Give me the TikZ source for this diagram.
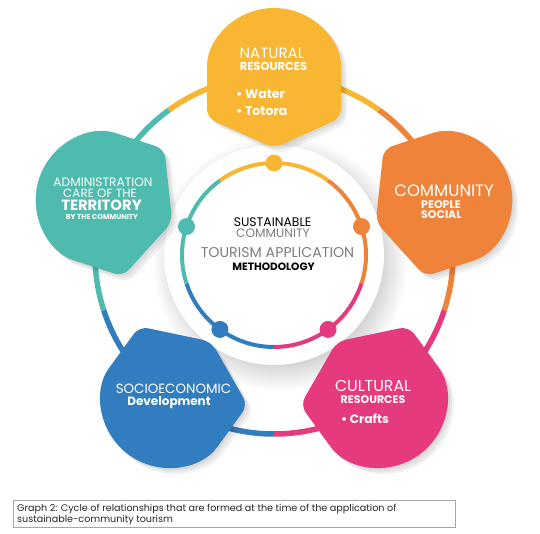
\documentclass[tikz,border=0pt]{standalone}
\usepackage{fontspec}
\setmainfont{Poppins}
\usetikzlibrary{calc}

\definecolor{natyellow}{RGB}{248,182,50}
\definecolor{comorange}{RGB}{239,131,57}
\definecolor{culpink}{RGB}{230,58,126}
\definecolor{socblue}{RGB}{50,125,191}
\definecolor{admteal}{RGB}{79,187,174}
\definecolor{midgray}{RGB}{125,125,125}

\pgfdeclareradialshading{discshade}{\pgfpoint{0bp}{0bp}}{color(0bp)=(black!22); color(18bp)=(black!22); color(25bp)=(white); color(50bp)=(white)}

\newcommand{\fsz}[1]{\fontsize{#1}{#1}\selectfont}

\tikzset{
  blob/.pic={\path[pic actions, rounded corners=9pt] (-67,0) arc[start angle=180, end angle=0, radius=67pt] -- (67,-43) -- (0,-73) -- (-67,-43) -- cycle;},
  txt/.style={white, anchor=base, inner sep=0pt},
  ltxt/.style={white, anchor=base west, inner sep=0pt},
}

\begin{document}
\begin{tikzpicture}[x=1pt,y=1pt]
  \useasboundingbox (0,0) rectangle (540,534);
  \coordinate (C) at (274,279);

  % white disc with its shadow
  \shade[shading=discshade] ($(C)+(6,-8)$) circle (128pt);
  \fill[white] (C) circle (110pt);

  % outer ring
  \foreach \a/\col in {90/natyellow,18/comorange,306/culpink,234/socblue,162/admteal}{
    \draw[\col, line width=5.5pt] ($(C)+(\a-36:179pt)$) arc[start angle=\a-36, end angle=\a+36, radius=179pt];
  }

  % blobs
  \foreach \a/\col/\nm in {90/natyellow/natblob,18/comorange/comblob,306/culpink/culblob,234/socblue/socblob,162/admteal/admblob}{
    \coordinate (\nm) at ($(C)+(\a:180pt)$);
    \foreach \s in {2,4,6}
      \pic[fill=black, fill opacity=0.05, rotate=\a-90] at ($(\nm)+(\s,-\s)$) {blob};
    \pic[fill=\col, rotate=\a-90] at (\nm) {blob};
  }

  % inner ring
  \foreach \a/\col in {90/natyellow,18/comorange,306/culpink,234/socblue,162/admteal}{
    \draw[\col, line width=4pt] ($(C)+(\a-36:92pt)$) arc[start angle=\a-36, end angle=\a+36, radius=92pt];
    \fill[\col] ($(C)+(\a:92pt)$) circle (8.5pt);
  }

  % natural resources
  \node[txt, font=\fsz{15}] (natural) at (272,475) {NATURAL};
  \node[txt, font=\bfseries\fsz{11.5}] (natres) at (273.5,463) {RESOURCES};
  \node[ltxt, font=\bfseries\fsz{12.5}] (water) at (236,435) {\textbullet\ Water};
  \node[ltxt, font=\bfseries\fsz{12.5}] (totora) at (236,418) {\textbullet\ Totora};

  % administration
  \node[txt, font=\fsz{12.2}] (admin) at (103,347) {ADMINISTRATION};
  \node[txt, font=\fsz{12}] (care) at (100,336) {CARE OF THE};
  \node[txt, font=\bfseries\fsz{14.8}] (territory) at (101.5,323) {TERRITORY};
  \node[txt, font=\bfseries\fsz{7.2}] (bycom) at (102,314) {BY THE COMMUNITY};

  % community
  \node[txt, font=\fsz{16.5}] (community) at (444,337) {COMMUNITY};
  \node[ltxt, font=\bfseries\fsz{11}] (people) at (421,325) {PEOPLE};
  \node[ltxt, font=\bfseries\fsz{11}] (social) at (421,315) {SOCIAL};

  % socioeconomic
  \node[txt, font=\fsz{13.4}] (socio) at (173.5,140) {SOCIOECONOMIC};
  \node[txt, font=\bfseries\fsz{12}] (devel) at (169,128.5) {Development};

  % cultural
  \node[txt, font=\fsz{15.8}] (cultural) at (373,142) {CULTURAL};
  \node[txt, font=\bfseries\fsz{11}] (culres) at (373,130) {RESOURCES};
  \node[ltxt, font=\bfseries\fsz{12.2}] (crafts) at (341,110) {\textbullet\ Crafts};

  % centre
  \node[txt, black, font=\fsz{12.4}] (sust) at (272.5,307) {SUSTAINABLE};
  \node[txt, midgray, font=\fsz{12.2}] (sustcom) at (273,296) {COMMUNITY};
  \node[txt, midgray, font=\fsz{14.2}] (tourism) at (277.5,276) {TOURISM APPLICATION};
  \node[txt, black, font=\bfseries\fsz{10.6}] (method) at (273.5,263) {METHODOLOGY};

  % caption
  \node[draw=gray!70, line width=0.6pt, minimum width=442pt, minimum height=27pt, anchor=north west, inner sep=0pt] (capbox) at (13,34) {};
  \node[anchor=base west, inner sep=0pt, black!85, font=\fsz{9.6}] (capone) at (17,22) {Graph 2: Cycle of relationships that are formed at the time of the application of};
  \node[anchor=base west, inner sep=0pt, black!85, font=\fsz{9.6}] (captwo) at (17,11) {sustainable-community tourism};
\end{tikzpicture}
\end{document}
